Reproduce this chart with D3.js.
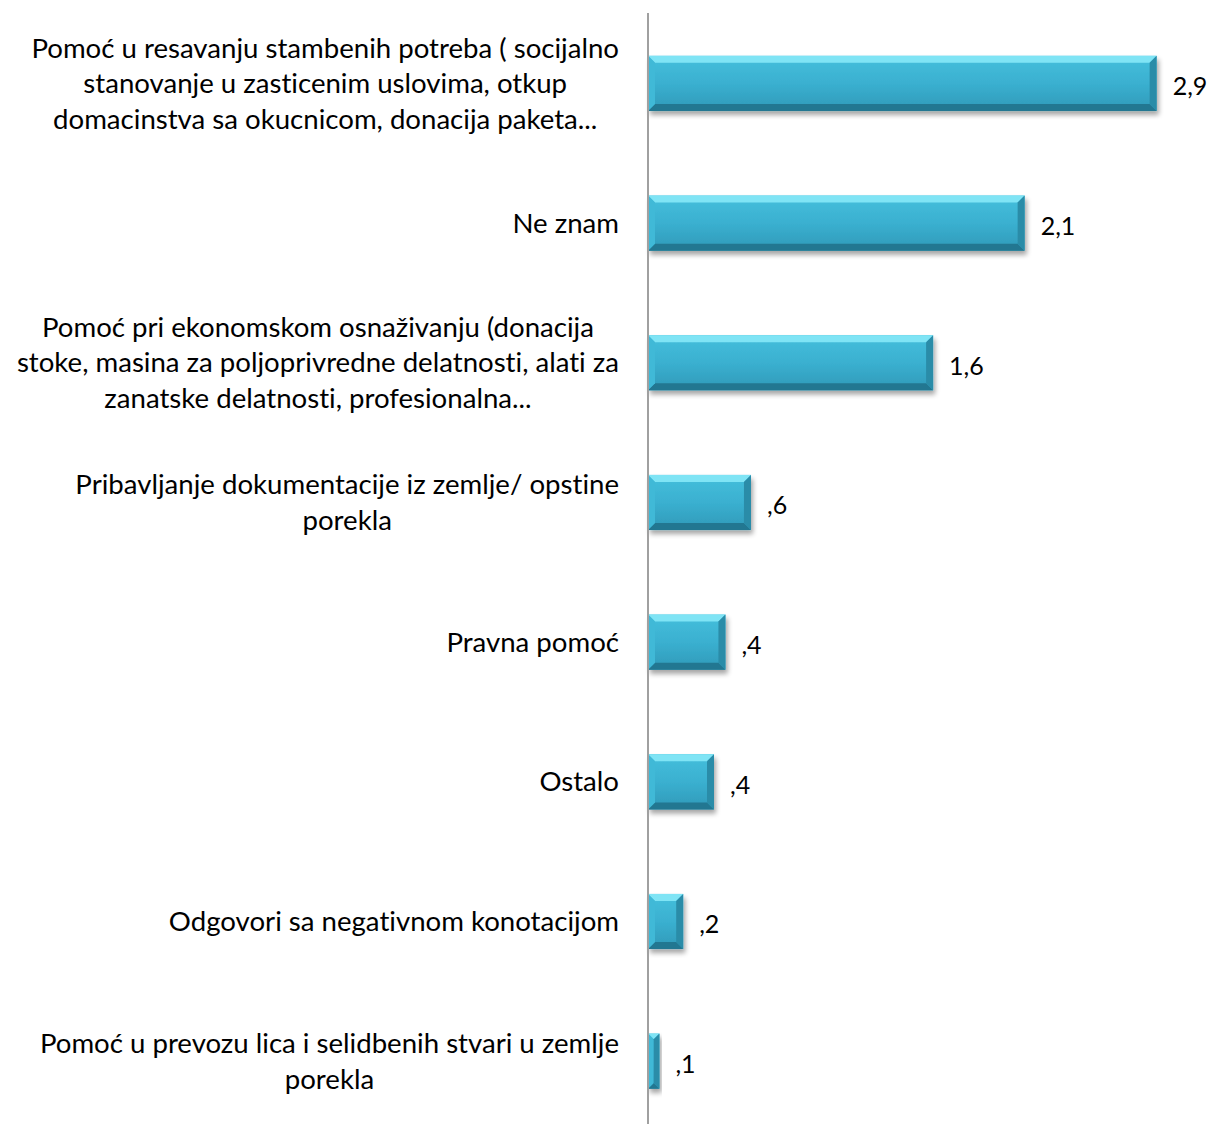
<!DOCTYPE html>
<html><head><meta charset="utf-8">
<script src="https://cdn.jsdelivr.net/npm/d3@7"></script>
<style>body{margin:0;background:#fff}svg{display:block}text{font-variant-ligatures:none;font-feature-settings:"liga" 0,"clig" 0}</style>
</head><body>
<script>
const categories = [
  ["Pomoć u resavanju stambenih potreba ( socijalno","stanovanje u zasticenim uslovima, otkup","domacinstva sa okucnicom, donacija paketa..."],
  ["Ne znam"],
  ["Pomoć pri ekonomskom osnaživanju (donacija","stoke, masina za poljoprivredne delatnosti, alati za","zanatske delatnosti, profesionalna..."],
  ["Pribavljanje dokumentacije iz zemlje/ opstine","porekla"],
  ["Pravna pomoć"],
  ["Ostalo"],
  ["Odgovori sa negativnom konotacijom"],
  ["Pomoć u prevozu lica i selidbenih stvari u zemlje","porekla"]
];
const values = [2.89, 2.14, 1.62, 0.585, 0.44, 0.375, 0.2, 0.065];

const W = 1209, H = 1124;
const svg = d3.select("body").append("svg").attr("width", W).attr("height", H);

const x0 = 648;
const x = d3.scaleLinear().domain([0, 1]).range([x0, x0 + 176]);
const y = d3.scaleBand().domain(d3.range(categories.length)).range([13.6, 1131])
  .paddingInner(0.605).paddingOuter(0.3025);

const defs = svg.append("defs");
const g = defs.append("linearGradient").attr("id","barGrad").attr("x1",0).attr("y1",0).attr("x2",0).attr("y2",1);
g.append("stop").attr("offset","0%").attr("stop-color","#45bfdc");
g.append("stop").attr("offset","50%").attr("stop-color","#3ab0d0");
g.append("stop").attr("offset","100%").attr("stop-color","#3099b8");
const f = defs.append("filter").attr("id","shadow").attr("x","-10%").attr("y","-20%").attr("width","130%").attr("height","160%");
f.append("feGaussianBlur").attr("in","SourceAlpha").attr("stdDeviation",2.5).attr("result","b");
f.append("feOffset").attr("in","b").attr("dx",2).attr("dy",4).attr("result","o");
f.append("feComponentTransfer").attr("in","o").attr("result","o2").append("feFuncA").attr("type","linear").attr("slope",0.35);
const fm = f.append("feMerge");
fm.append("feMergeNode").attr("in","o2");
fm.append("feMergeNode").attr("in","SourceGraphic");

const fmt = v => {
  let s = d3.format(".1f")(v);
  if (s.startsWith("0.")) s = s.slice(1);
  return s.replace(".", ",");
};

const bars = svg.append("g").selectAll("g").data(values).join("g").attr("filter","url(#shadow)");
bars.each(function(v, i) {
  const sel = d3.select(this);
  const xa = x(0), xb = x(v), ya = y(i), yb = y(i) + y.bandwidth();
  const b = Math.min(7, (xb - xa) / 2);
  sel.append("rect").attr("x", xa).attr("y", ya).attr("width", xb - xa).attr("height", yb - ya).attr("fill", "url(#barGrad)");
  const poly = (pts, c) => sel.append("polygon").attr("points", pts.map(p => p.join(",")).join(" ")).attr("fill", c);
  poly([[xa,ya],[xb,ya],[xb-b,ya+b],[xa+b,ya+b]], "#7fe4f5");
  poly([[xa,yb],[xb,yb],[xb-b,yb-b],[xa+b,yb-b]], "#237791");
  poly([[xa,ya],[xa+b,ya+b],[xa+b,yb-b],[xa,yb]], "#3fb9d7");
  poly([[xb,ya],[xb-b,ya+b],[xb-b,yb-b],[xb,yb]], "#2b8ca8");
});

// axis line
svg.append("line").attr("x1", x0).attr("x2", x0).attr("y1", 13).attr("y2", H)
  .attr("stroke", "#a0a0a0").attr("stroke-width", 2);

// category labels
const lineH = 35.5;
const labs = svg.append("g").attr("font-family", "Lato, 'Open Sans', sans-serif").attr("font-size", 27.6).attr("fill", "#000");
categories.forEach((lines, i) => {
  const t = labs.append("text").attr("text-anchor", "middle");
  const cy = y(i) + y.bandwidth() / 2;
  const top = cy - (lines.length - 1) * lineH / 2;
  lines.forEach((ln, k) => {
    t.append("tspan").attr("x", 0).attr("y", top + k * lineH).attr("dy", "0.35em").text(ln);
  });
  const w = t.node().getBBox().width;
  t.selectAll("tspan").attr("x", 619 - w / 2);
});

// value labels
svg.append("g").attr("font-family", "Lato, 'Open Sans', sans-serif").attr("font-size", 25).attr("fill", "#000")
  .selectAll("text").data(values).join("text")
  .attr("x", d => x(d) + 16).attr("y", (d, i) => y(i) + y.bandwidth() / 2 + 3).attr("dy", "0.35em")
  .text(fmt);
</script>
</body></html>
